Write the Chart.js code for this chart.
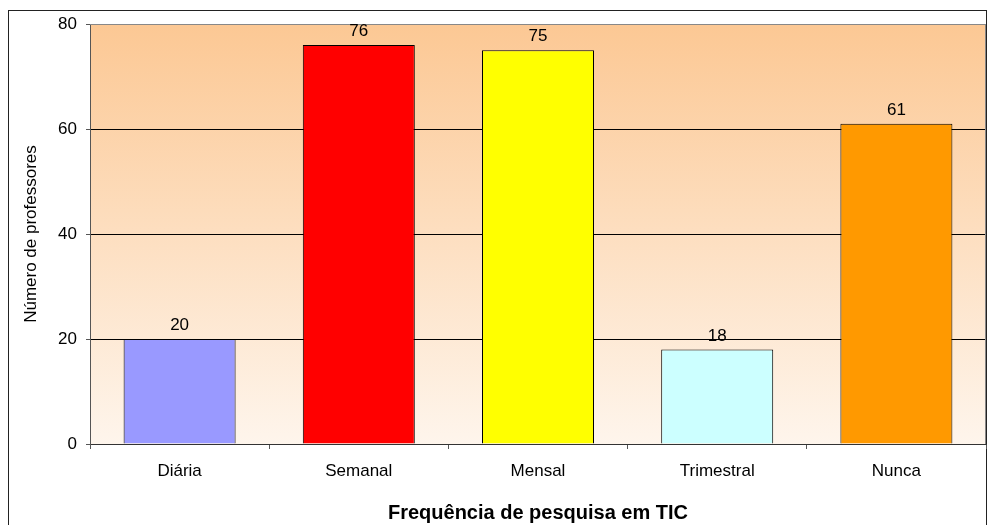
<!DOCTYPE html>
<html>
<head>
<meta charset="utf-8">
<script src="https://cdn.jsdelivr.net/npm/chart.js@4/dist/chart.umd.min.js"></script>
<style>
html,body{margin:0;padding:0;background:#fff;}
#wrap{width:988px;height:525px;position:relative;}
</style>
</head>
<body>
<div id="wrap"><canvas id="c" width="988" height="525"></canvas></div>
<script>
const categories = ["Diária", "Semanal", "Mensal", "Trimestral", "Nunca"];
const values = [20, 76, 75, 18, 61];
const barColors = ["#9999FF", "#FF0000", "#FFFF00", "#CCFFFF", "#FF9900"];
const yTicks = [0, 20, 40, 60, 80];
const xTitle = "Frequência de pesquisa em TIC";
const yTitle = "Número de professores";

const FONT = "'Liberation Sans', Arial, sans-serif";

const bgPlugin = {
  id: 'bgPlugin',
  beforeDraw(chart) {
    const {ctx, chartArea: a} = chart;
    ctx.save();
    ctx.fillStyle = '#fff';
    ctx.fillRect(0, 0, chart.width, chart.height);
    const g = ctx.createLinearGradient(0, a.top, 0, a.bottom);
    g.addColorStop(0, '#FCC894');
    g.addColorStop(1, '#FEF5EC');
    ctx.fillStyle = g;
    ctx.fillRect(a.left, a.top, a.right - a.left, a.bottom - a.top);
    // outer frame
    ctx.strokeStyle = '#222';
    ctx.lineWidth = 1;
    ctx.strokeRect(8.5, 10.5, 978, 600);
    ctx.restore();
  },
  afterDatasetsDraw(chart) {
    const {ctx, chartArea: a} = chart;
    ctx.save();
    // plot frame top/right in gray
    ctx.strokeStyle = '#888';
    ctx.lineWidth = 1;
    ctx.beginPath();
    ctx.moveTo(a.left, Math.round(a.top) + 0.5);
    ctx.lineTo(Math.round(a.right) - 0.5, Math.round(a.top) + 0.5);
    ctx.lineTo(Math.round(a.right) - 0.5, a.bottom);
    ctx.stroke();
    // data labels
    const meta = chart.getDatasetMeta(0);
    ctx.fillStyle = '#000';
    ctx.font = '17px ' + FONT;
    ctx.textAlign = 'center';
    ctx.textBaseline = 'alphabetic';
    meta.data.forEach((bar, i) => {
      ctx.fillText(String(values[i]), bar.x, bar.y - 9);
    });
    ctx.restore();
  }
};

new Chart(document.getElementById('c'), {
  type: 'bar',
  data: {
    labels: categories,
    datasets: [{
      data: values,
      backgroundColor: barColors,
      borderColor: '#000',
      borderWidth: 1,
      barPercentage: 0.625,
      categoryPercentage: 1.0
    }]
  },
  options: {
    responsive: false,
    animation: false,
    devicePixelRatio: 1,
    layout: { padding: { left: 0, right: 2, top: 24, bottom: 0 } },
    plugins: { legend: { display: false }, tooltip: { enabled: false } },
    scales: {
      x: {
        afterFit(s) { s.height = 81; },
        grid: {
          offset: true,
          drawOnChartArea: false,
          drawTicks: true,
          tickLength: 5,
          tickColor: '#555'
        },
        border: { color: '#333', width: 1 },
        ticks: {
          color: '#000',
          font: { family: FONT, size: 17 },
          padding: 12
        },
        title: {
          display: true,
          text: xTitle,
          color: '#000',
          font: { family: FONT, size: 20, weight: 'bold' },
          padding: { top: 0, bottom: 0 }
        }
      },
      y: {
        min: 0,
        max: 80,
        afterFit(s) { s.width = 90; },
        afterBuildTicks(s) { s.ticks = yTicks.map(v => ({ value: v })); },
        grid: {
          color: (c) => (c.tick && c.tick.value === 80 ? '#888' : '#000'),
          lineWidth: 1,
          drawTicks: true,
          tickLength: 4,
          tickColor: '#555'
        },
        border: { color: '#555', width: 1 },
        ticks: {
          color: '#000',
          font: { family: FONT, size: 17 },
          padding: 9
        },
        title: {
          display: true,
          text: yTitle,
          color: '#000',
          font: { family: FONT, size: 17 },
          padding: { top: 21, bottom: 0 }
        }
      }
    }
  },
  plugins: [bgPlugin]
});
</script>
</body>
</html>
